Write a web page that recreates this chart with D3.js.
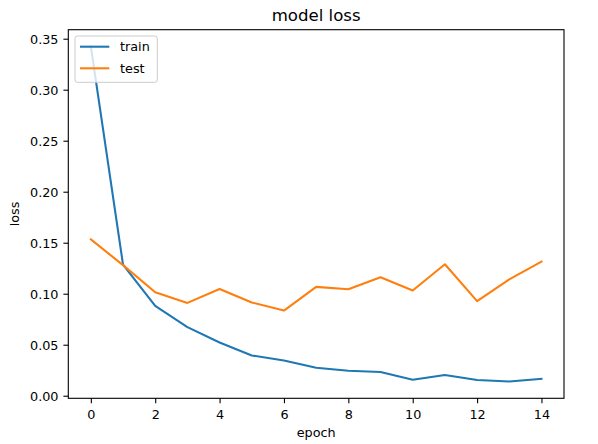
<!DOCTYPE html>
<html>
<head>
<meta charset="utf-8">
<script src="https://cdn.jsdelivr.net/npm/d3@7"></script>
<style>
html,body{margin:0;padding:0;background:#fff;}
svg{display:block;}
text{font-family:"DejaVu Sans",sans-serif;fill:#000;}
</style>
</head>
<body>
<svg id="chart" width="598" height="444"></svg>
<script>
const epochs = [0,1,2,3,4,5,6,7,8,9,10,11,12,13,14];
const trainLoss = [0.3424,0.1286,0.0880,0.0672,0.0522,0.0395,0.0346,0.0274,0.0245,0.0232,0.0157,0.0203,0.0154,0.0139,0.0166];
const testLoss  = [0.1533,0.1280,0.1015,0.0910,0.1047,0.0914,0.0835,0.1067,0.1044,0.1161,0.1031,0.1289,0.0927,0.1140,0.1315];
const xTicks = [0,2,4,6,8,10,12,14];
const yTicks = [0,0.05,0.10,0.15,0.20,0.25,0.30,0.35];
const seriesNames = ["train","test"];
const seriesColors = ["#1f77b4","#ff7f0e"];

const svg = d3.select("#chart");
const L = 68.3, R = 564, T = 29.7, B = 398.3;
const fs = 12.8;

const xMin = d3.min(epochs), xMax = d3.max(epochs), xPad = (xMax - xMin) * 0.05;
const allY = trainLoss.concat(testLoss);
const yMin = d3.min(allY), yMax = d3.max(allY), yPad = (yMax - yMin) * 0.05;

const x = d3.scaleLinear().domain([xMin - xPad, xMax + xPad]).range([L, R]);
const y = d3.scaleLinear().domain([yMin - yPad, yMax + yPad]).range([B, T]);

const line = d3.line().x((d,i) => x(epochs[i])).y(d => y(d));

const plot = svg.append("g");
[trainLoss, testLoss].forEach((s, k) => {
  plot.append("path").datum(s)
    .attr("fill","none")
    .attr("stroke", seriesColors[k])
    .attr("stroke-width", 2.08)
    .attr("stroke-linejoin","round")
    .attr("stroke-linecap","square")
    .attr("d", line);
});

// frame
svg.append("rect").attr("x",L).attr("y",T).attr("width",R-L).attr("height",B-T)
  .attr("fill","none").attr("stroke","#000").attr("stroke-width",1.1);

// x axis
const xAxis = d3.axisBottom(x).tickValues(xTicks).tickFormat(d3.format("d"))
  .tickSize(4.9).tickPadding(3);
const gx = svg.append("g").attr("transform", `translate(0,${B})`).call(xAxis);
gx.select(".domain").remove();
gx.selectAll(".tick line").attr("stroke","#000").attr("stroke-width",1.1);
gx.selectAll(".tick text").attr("font-size", fs).attr("font-family","DejaVu Sans")
  .attr("fill","#000").attr("y", 21).attr("dy", null);

// y axis
const yAxis = d3.axisLeft(y).tickValues(yTicks).tickFormat(d3.format(".2f"))
  .tickSize(4.9).tickPadding(4.9);
const gy = svg.append("g").attr("transform", `translate(${L},0)`).call(yAxis);
gy.select(".domain").remove();
gy.selectAll(".tick line").attr("stroke","#000").attr("stroke-width",1.1);
gy.selectAll(".tick text").attr("font-size", fs).attr("font-family","DejaVu Sans")
  .attr("fill","#000").attr("dy","0.36em");

// title and labels
svg.append("text").attr("x",(L+R)/2).attr("y",21).attr("text-anchor","middle")
  .attr("font-size",16.6).text("model loss");
svg.append("text").attr("x",(L+R)/2).attr("y",437).attr("text-anchor","middle")
  .attr("font-size",fs).text("epoch");
svg.append("text").attr("transform",`translate(19,${(T+B)/2}) rotate(-90)`)
  .attr("text-anchor","middle").attr("font-size",fs).text("loss");

// legend
const lg = svg.append("g");
lg.append("rect").attr("x",75).attr("y",36).attr("width",82.3).attr("height",46.3)
  .attr("rx",2.5).attr("fill","#fff").attr("fill-opacity",0.8)
  .attr("stroke","#cccccc").attr("stroke-width",1);
seriesNames.forEach((n,k) => {
  const yy = 46.7 + k*21.6;
  lg.append("line").attr("x1",80).attr("x2",109.3).attr("y1",yy).attr("y2",yy)
    .attr("stroke",seriesColors[k]).attr("stroke-width",2.08);
  lg.append("text").attr("x",120).attr("y",yy).attr("dy","0.36em")
    .attr("font-size",fs).text(n);
});
</script>
</body>
</html>
